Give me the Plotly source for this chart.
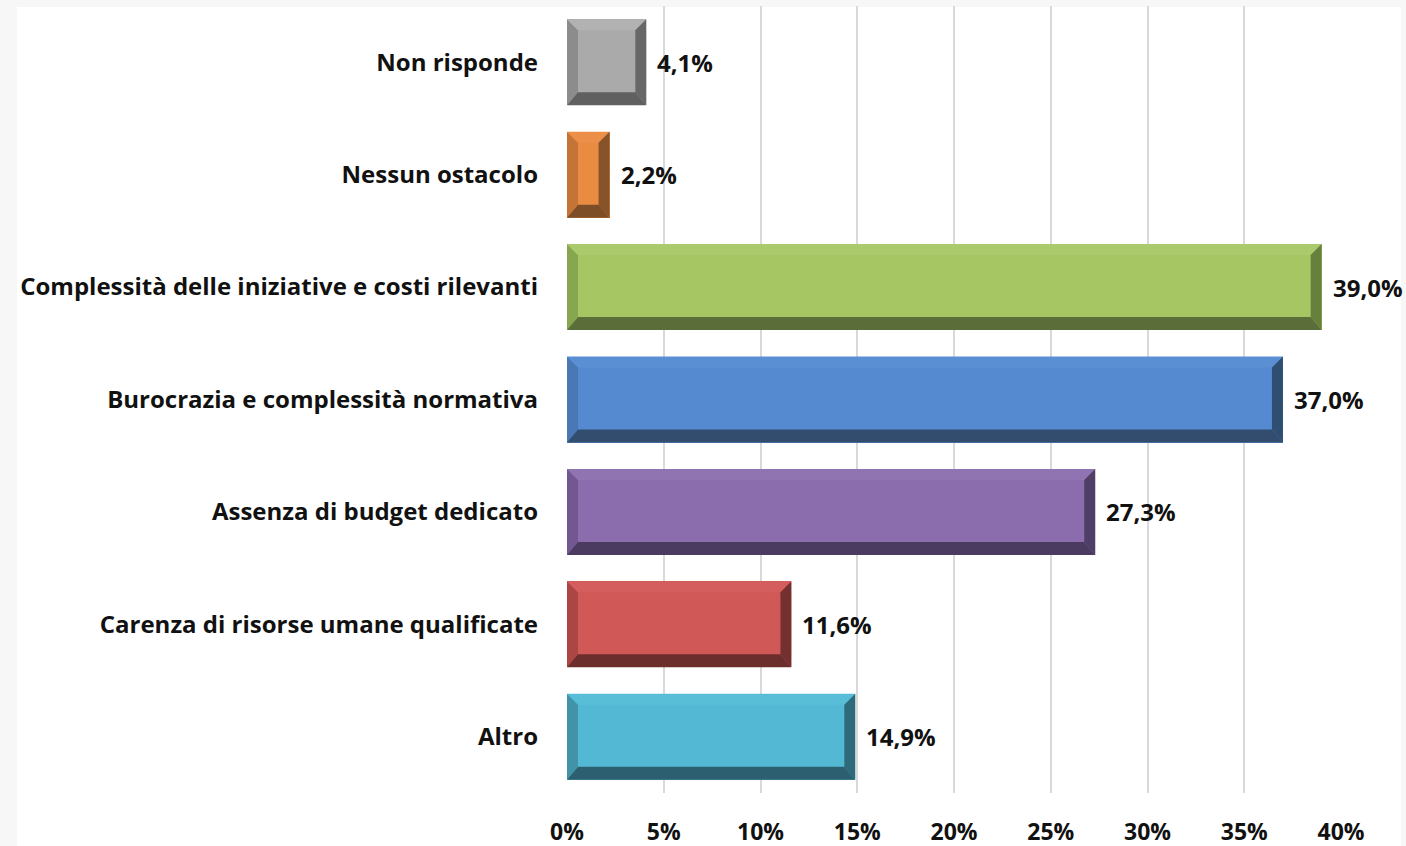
import plotly.graph_objects as go

# Categories listed bottom-to-top as they appear on the y axis
categories = [
    "Altro",
    "Carenza di risorse umane qualificate",
    "Assenza di budget dedicato",
    "Burocrazia e complessità normativa",
    "Complessità delle iniziative e costi rilevanti",
    "Nessun ostacolo",
    "Non risponde",
]
values = [14.9, 11.6, 27.3, 37.0, 39.0, 2.2, 4.1]
x_ticks = [0, 5, 10, 15, 20, 25, 30, 35, 40]
x_tick_labels = [f"{t}%" for t in x_ticks]

# Bevel palette per bar: face, left edge, top edge, right edge, bottom edge
face_colors = ["#52b8d3", "#d05857", "#8b6dad", "#558ad0", "#a6c664", "#e98b41", "#aaaaaa"]
left_colors = ["#4292a8", "#ac4645", "#725891", "#4a78b4", "#88a650", "#c47436", "#8c8c8c"]
top_colors = ["#58bdd7", "#d45e5d", "#9074b2", "#5b8fd3", "#abca6b", "#ec9049", "#b2b2b2"]
right_colors = ["#2f6a7a", "#73302f", "#4f3e66", "#2f4e72", "#66803d", "#87542a", "#676767"]
bottom_colors = ["#2c6070", "#6c2e2d", "#4c3b61", "#324d6e", "#5b6d38", "#7c4d27", "#606060"]

W, H = 1406, 846
M_L, M_R, M_T, M_B = 567, 65, 6, 53
plot_w = W - M_L - M_R
plot_h = H - M_T - M_B
x_max = 40
n = len(categories)
bar_width = 0.765

# pixel -> data unit conversions for bevel thickness
px_x = x_max / plot_w
px_y = n / plot_h
bev_x = 11 * px_x
bev_top = 11 * px_y
bev_bot = 13 * px_y
half = bar_width / 2

FONT = "Open Sans"
TEXT_COLOR = "#111111"

fig = go.Figure()
fig.add_trace(go.Bar(
    x=values,
    y=list(range(n)),
    orientation="h",
    width=bar_width,
    marker=dict(color=face_colors, line=dict(width=0)),
    hoverinfo="skip",
))


def poly(points):
    return "M " + " L ".join(f"{px},{py}" for px, py in points) + " Z"


shapes = []
for i, v in enumerate(values):
    y_lo, y_hi = i - half, i + half
    edges = [
        (left_colors[i], [(0, y_lo), (0, y_hi), (bev_x, y_hi - bev_top), (bev_x, y_lo + bev_bot)]),
        (top_colors[i], [(0, y_hi), (v, y_hi), (v - bev_x, y_hi - bev_top), (bev_x, y_hi - bev_top)]),
        (right_colors[i], [(v, y_lo), (v, y_hi), (v - bev_x, y_hi - bev_top), (v - bev_x, y_lo + bev_bot)]),
        (bottom_colors[i], [(0, y_lo), (v, y_lo), (v - bev_x, y_lo + bev_bot), (bev_x, y_lo + bev_bot)]),
    ]
    for col, pts in edges:
        shapes.append(dict(type="path", xref="x", yref="y", path=poly(pts),
                           fillcolor=col, line=dict(width=0), layer="above"))

# white canvas framed by a pale grey border
shapes.append(dict(
    type="rect", xref="paper", yref="paper", layer="below",
    x0=(17 - M_L) / plot_w, x1=(1401 - M_L) / plot_w,
    y0=-M_B / plot_h - 0.01, y1=1 + (M_T - 7) / plot_h,
    fillcolor="white", line=dict(width=0),
))

annotations = []
for i, v in enumerate(values):
    annotations.append(dict(
        x=v, y=i, xref="x", yref="y", xanchor="left", yanchor="middle",
        xshift=9, showarrow=False,
        text=f"{v:.1f}%".replace(".", ","),
        font=dict(family=FONT, size=24, color=TEXT_COLOR, weight="bold"),
    ))

fig.update_layout(
    width=W, height=H,
    margin=dict(l=M_L, r=M_R, t=M_T, b=M_B, pad=0, autoexpand=False),
    paper_bgcolor="#f7f7f7",
    plot_bgcolor="rgba(0,0,0,0)",
    showlegend=False,
    shapes=shapes,
    annotations=annotations,
    bargap=0,
    xaxis=dict(
        range=[0, x_max], tickvals=x_ticks, ticktext=x_tick_labels,
        showgrid=True, gridcolor="#d9d9d9", gridwidth=2,
        zeroline=False, showline=False, automargin=False,
        ticks="", ticklabelstandoff=23,
        tickfont=dict(family=FONT, size=23, color=TEXT_COLOR, weight="bold"),
        fixedrange=True,
    ),
    yaxis=dict(
        range=[-0.5, n - 0.5], tickvals=list(range(n)), ticktext=categories,
        showgrid=False, zeroline=False, showline=False, ticks="",
        automargin=False, ticklabelstandoff=28,
        tickfont=dict(family=FONT, size=24, color=TEXT_COLOR, weight="bold"),
        fixedrange=True,
    ),
)

fig.write_html("out.html")
